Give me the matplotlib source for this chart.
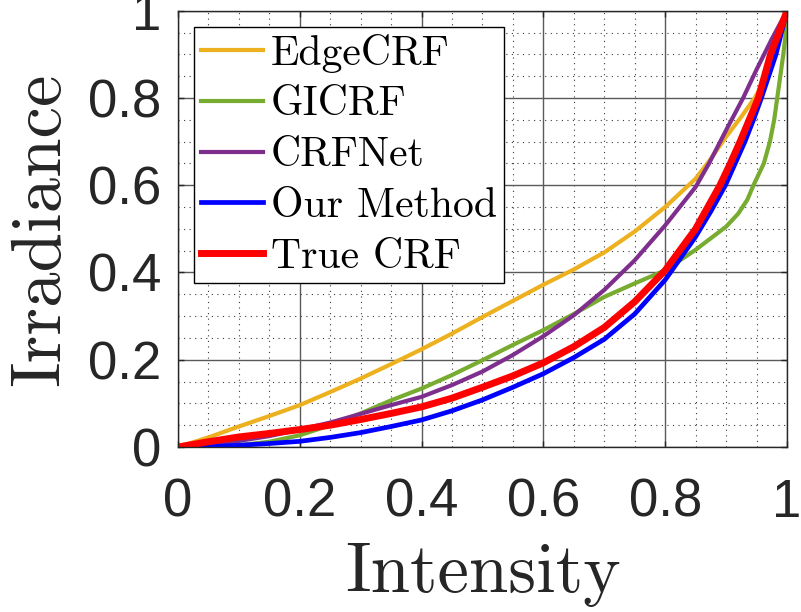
import matplotlib
matplotlib.use("Agg")
import matplotlib.pyplot as plt
import numpy as np

# Curves (irradiance vs intensity)
edge_x = [0, 0.05, 0.1, 0.15, 0.2, 0.25, 0.3, 0.35, 0.4, 0.45, 0.5, 0.55, 0.6,
          0.65, 0.7, 0.75, 0.8, 0.85, 0.872, 0.9, 0.925, 0.947, 0.967, 0.985, 1]
edge_y = [0, 0.022, 0.047, 0.071, 0.096, 0.126, 0.157, 0.19, 0.224, 0.26, 0.298,
          0.335, 0.372, 0.407, 0.446, 0.494, 0.55, 0.615, 0.655, 0.711, 0.757,
          0.8, 0.85, 0.93, 1.0]

gi_x = [0, 0.05, 0.1, 0.15, 0.2, 0.25, 0.3, 0.35, 0.4, 0.45, 0.5, 0.55, 0.6,
        0.65, 0.7, 0.75, 0.8, 0.85, 0.9, 0.92, 0.935, 0.945, 0.962, 0.972,
        0.979, 0.984, 0.99, 0.994, 0.998, 1]
gi_y = [0, 0.001, 0.004, 0.012, 0.027, 0.05, 0.077, 0.107, 0.134, 0.165, 0.199,
        0.234, 0.268, 0.305, 0.344, 0.375, 0.405, 0.452, 0.505, 0.535, 0.567,
        0.6, 0.65, 0.7, 0.75, 0.8, 0.86, 0.9, 0.95, 1.0]

crfnet_x = [0, 0.05, 0.1, 0.15, 0.2, 0.25, 0.3, 0.35, 0.4, 0.45, 0.5, 0.55, 0.6,
            0.65, 0.7, 0.75, 0.8, 0.85, 0.872, 0.9, 0.928, 0.95, 0.975, 1]
crfnet_y = [0, 0.006, 0.014, 0.025, 0.040, 0.056, 0.076, 0.096, 0.115, 0.142,
            0.173, 0.211, 0.254, 0.302, 0.36, 0.428, 0.508, 0.596, 0.65, 0.726,
            0.8, 0.865, 0.935, 1.0]

ours_x = [0, 0.05, 0.1, 0.15, 0.2, 0.25, 0.3, 0.35, 0.4, 0.45, 0.5, 0.55, 0.6,
          0.65, 0.7, 0.75, 0.8, 0.85, 0.875, 0.899, 0.915, 0.931, 0.945, 0.958,
          0.97, 0.982, 0.991, 1]
ours_y = [0, 0.001, 0.004, 0.008, 0.013, 0.022, 0.033, 0.047, 0.062, 0.083, 0.108,
          0.137, 0.168, 0.205, 0.247, 0.305, 0.383, 0.482, 0.54, 0.6, 0.65, 0.7,
          0.75, 0.8, 0.85, 0.9, 0.95, 1.0]

true_x = [0, 0.05, 0.1, 0.15, 0.2, 0.25, 0.3, 0.35, 0.4, 0.45, 0.5, 0.55, 0.6,
          0.65, 0.7, 0.75, 0.8, 0.85, 0.87, 0.89, 0.907, 0.923, 0.938, 0.953,
          0.963, 0.973, 0.987, 1]
true_y = [0, 0.012, 0.023, 0.031, 0.040, 0.050, 0.063, 0.077, 0.092, 0.112, 0.137,
          0.163, 0.193, 0.23, 0.274, 0.333, 0.405, 0.5, 0.55, 0.6, 0.65, 0.7,
          0.75, 0.8, 0.85, 0.9, 0.95, 1.0]

tick_values = [0, 0.2, 0.4, 0.6, 0.8, 1]
tick_labels = ["0", "0.2", "0.4", "0.6", "0.8", "1"]

TEXT = "#262626"
SERIF = "cmr10"
SANS = "Liberation Sans"

fig = plt.figure(figsize=(8.01, 6.12), dpi=100)
ax = fig.add_axes([0.2222, 0.2696, 0.7603, 0.7129])

# MATLAB default colour order for the first three, then b and r
ax.plot(edge_x, edge_y, color="#EDB120", lw=3.0, label="EdgeCRF")
ax.plot(gi_x, gi_y, color="#77AC30", lw=3.0, label="GICRF")
ax.plot(crfnet_x, crfnet_y, color="#7E2F8E", lw=3.0, label="CRFNet")
ax.plot(ours_x, ours_y, color="#0000FF", lw=3.4, label="Our Method")
ax.plot(true_x, true_y, color="#FF0000", lw=5.0, label="True CRF")

ax.set_xlim(0, 1)
ax.set_ylim(0, 1)
ax.set_xticks(tick_values)
ax.set_yticks(tick_values)
ax.set_xticklabels(tick_labels, fontfamily=SANS, fontsize=38, color=TEXT)
ax.set_yticklabels(tick_labels, fontfamily=SANS, fontsize=38, color=TEXT)
ax.set_xticks(np.arange(0, 1.0001, 0.05), minor=True)
ax.set_yticks(np.arange(0, 1.0001, 0.05), minor=True)

# grid: solid major, dotted minor
ax.grid(True, which="major", color="#5a5a5a", lw=1.0, ls="-")
ax.grid(True, which="minor", color="#3a3a3a", lw=0.8, ls=(0, (1, 4)))
ax.set_axisbelow(True)

ax.tick_params(which="major", direction="in", length=4, width=1, color=TEXT,
               top=True, right=True)
ax.tick_params(which="minor", length=0)
ax.tick_params(axis="x", which="major", pad=22)
ax.tick_params(axis="y", which="major", pad=12)
for s in ax.spines.values():
    s.set_color(TEXT)
    s.set_linewidth(1.0)

ax.set_xlabel("Intensity", fontfamily=SERIF, fontsize=51, color=TEXT, labelpad=11)
ax.set_ylabel("Irradiance", fontfamily=SERIF, fontsize=51, color=TEXT, labelpad=11)

leg = ax.legend(loc="upper left", bbox_to_anchor=(0.0268, 0.9638),
                borderaxespad=0, prop={"family": SERIF, "size": 30},
                handlelength=1.48, handletextpad=0.18, labelspacing=0.32,
                borderpad=0.17, fancybox=False, framealpha=1, edgecolor="black")
leg.get_frame().set_linewidth(1.0)

fig.savefig("out.png", dpi=100)
